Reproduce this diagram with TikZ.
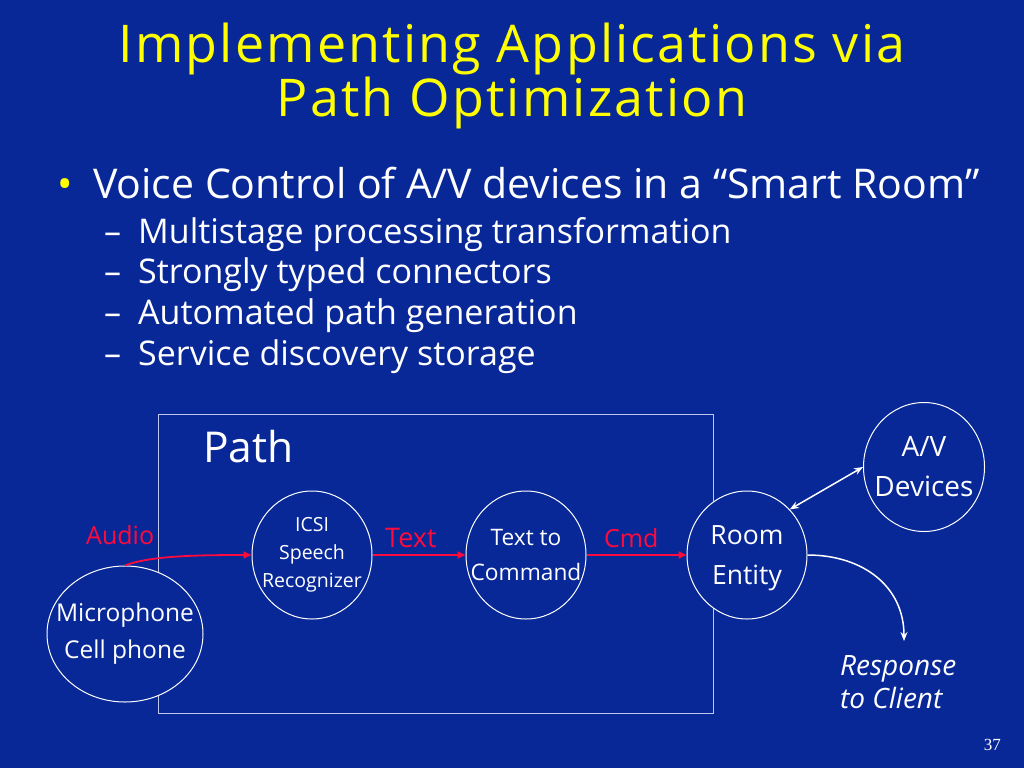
\documentclass[tikz,border=0pt]{standalone}
\usepackage{fontspec}
\setmainfont{Open Sans}
\newfontfamily\pnfont{Liberation Serif}
\newfontfamily\titlefont[LetterSpace=4.2]{Open Sans}
\usetikzlibrary{shapes.geometric,arrows.meta}
\definecolor{bg}{RGB}{8,40,152}
\definecolor{ttl}{RGB}{255,255,0}
\definecolor{lab}{RGB}{255,10,60}
\definecolor{boxline}{RGB}{190,200,235}
\newcommand{\fs}[2]{\fontsize{#1}{#2}\selectfont\lineskiplimit=-1000pt\relax}
\tikzset{
  title/.style={text=ttl, inner sep=0, anchor=base, align=center, font=\titlefont\fs{52}{54}},
  bul/.style={text=white, inner sep=0, anchor=base west, font=\fs{41}{41}},
  sub/.style={text=white, inner sep=0, anchor=base west, font=\fs{34}{34}},
  proc/.style={ellipse, draw=white, fill=bg, line width=1pt, inner sep=0},
  txt/.style={text=white, inner sep=0, align=center},
  lbl/.style={text=lab, inner sep=0, anchor=base west, font=\fs{25}{25}},
  redarrow/.style={draw=lab, line width=1.8pt, -{Triangle[length=8pt,width=7pt]}},
  whitearrow/.style={draw=white, line width=1.5pt},
}
\begin{document}
\begin{tikzpicture}[x=1pt,y=-1pt]
\fill[bg] (0,0) rectangle (1024,768);
\useasboundingbox (0,0) rectangle (1024,768);

\node[title] (title) at (512,116) {Implementing Applications via\\Path Optimization};

\node[text=ttl, inner sep=0, anchor=base west, font=\fs{41}{41}] (b0) at (57,198) {•};
\node[bul] (b1) at (93,198) {Voice Control of A/V devices in a “Smart Room”};
\node[sub] (d1) at (104,243) {–};
\node[sub] (s1) at (138,243) {Multistage processing transformation};
\node[sub] (d2) at (104,283) {–};
\node[sub] (s2) at (138,283) {Strongly typed connectors};
\node[sub] (d3) at (104,324) {–};
\node[sub] (s3) at (138,324) {Automated path generation};
\node[sub] (d4) at (104,365) {–};
\node[sub] (s4) at (138,365) {Service discovery storage};

\node[draw=boxline, line width=1pt, minimum width=555pt, minimum height=299pt, anchor=north west, inner sep=0] (pathbox) at (158,414) {};
\node[text=white, inner sep=0, anchor=base west, font=\fs{42.5}{42.5}] (pathlbl) at (203,462) {Path};

\node[proc, minimum width=156pt, minimum height=136pt] (mic) at (125,634) {};
\node[txt, font=\fs{24.5}{37}] (mictxt) at (mic.center) {Microphone\\Cell phone};

\node[proc, minimum width=120pt, minimum height=128pt] (icsi) at (312,555) {};
\node[txt, font=\fs{19.5}{28}] (icsitxt) at (icsi.center) {ICSI\\Speech\\Recognizer};

\node[proc, minimum width=120pt, minimum height=128pt] (ttc) at (526,555) {};
\node[txt, font=\fs{22.7}{35}] (ttctxt) at (ttc.center) {Text to\\Command};

\node[proc, minimum width=120pt, minimum height=128pt] (room) at (747,555) {};
\node[txt, font=\fs{26.5}{40}] (roomtxt) at ([yshift=-3pt]room.center) {Room\\Entity};

\node[proc, minimum width=121pt, minimum height=129pt] (av) at (924,467) {};
\node[txt, font=\fs{28}{40}] (avtxt) at (av.center) {A/V\\Devices};

\node[lbl] (audio) at (86,544) {Audio};
\node[lbl, font=\fs{27}{27}] (textlbl) at (385,547) {Text};
\node[lbl] (cmd) at (604,547) {Cmd};

\node[text=white, inner sep=0, anchor=base west, align=left, font=\fs{28}{33}\itshape] (resp) at (840,708) {Response\\to Client};

\node[text=white, inner sep=0, anchor=base east, font=\pnfont\fs{17}{17}] (pn) at (1001,750) {37};

\coordinate (respend) at (904,641);

\draw[redarrow] (mic.north) .. controls +(25,-10) and +(-50,0) .. (icsi.west);
\draw[redarrow] (icsi.east) -- (ttc.west);
\draw[redarrow] (ttc.east) -- (room.west);
\draw[whitearrow, {Stealth[length=9pt,width=7pt]}-{Stealth[length=9pt,width=7pt]}] (room.north east) -- (av.west);
\draw[whitearrow, -{Stealth[length=9pt,width=7pt]}] (room.east) .. controls +(55,0) and +(0,-55) .. (respend);
\end{tikzpicture}
\end{document}
